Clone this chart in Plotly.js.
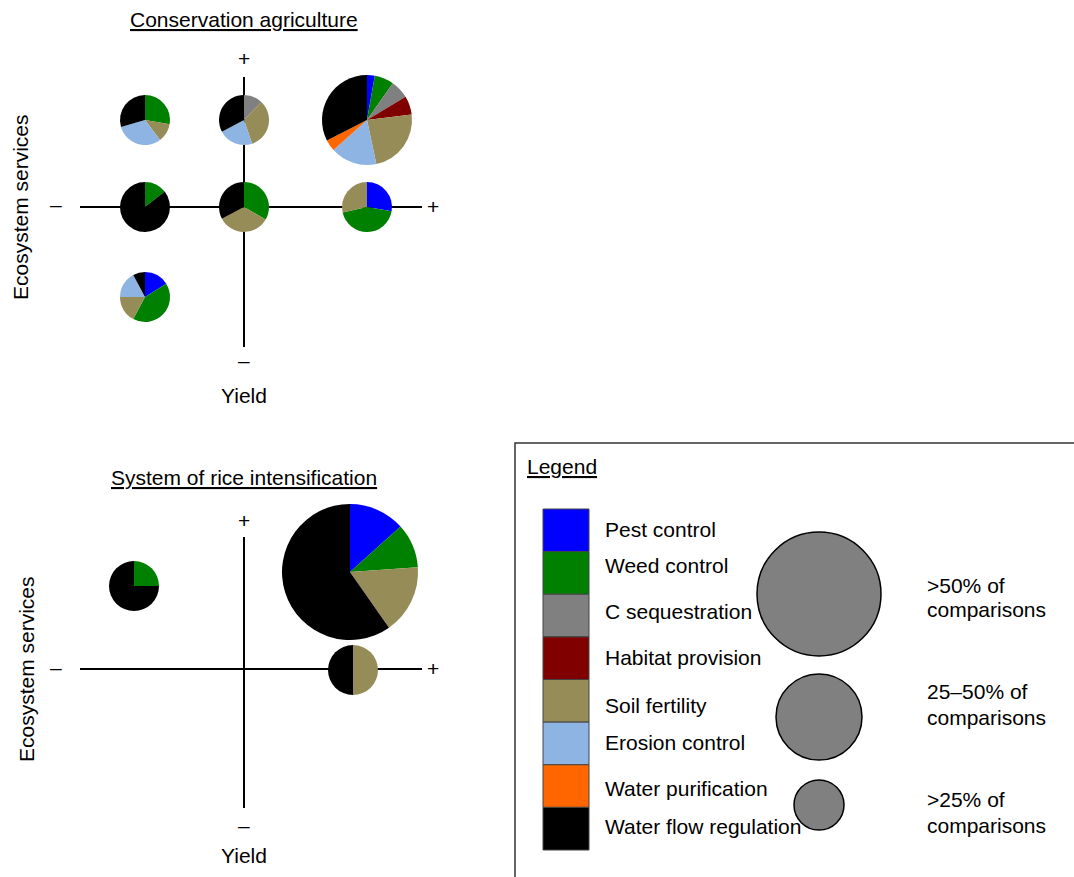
<!DOCTYPE html>
<html>
<head>
<meta charset="utf-8">
<script src="https://cdn.plot.ly/plotly-3.0.1.min.js"></script>
<style>html,body{margin:0;padding:0;background:#fff;}#chart{width:1074px;height:877px;}</style>
</head>
<body>
<div id="chart"></div>
<script>
// ---------- DATA ----------
const services = ['Pest control','Weed control','C sequestration','Habitat provision',
                  'Soil fertility','Erosion control','Water purification','Water flow regulation'];
const serviceColors = ['#0000ff','#008000','#808080','#800000','#968c58','#8eb4e3','#ff6600','#000000'];

const sizeClassLabels = [['>50% of','comparisons'],['25–50% of','comparisons'],['>25% of','comparisons']];

// Conservation agriculture: share of each service (degrees of the pie, clockwise from 12 o'clock)
const caYieldNegEsPos  = [0, 100, 0, 0, 43, 111, 0, 106];
const caYieldZeroEsPos = [0, 0, 44, 0, 117, 81, 0, 118];
const caYieldPosEsPos  = [10, 25, 24, 24, 85, 60, 15, 117];
const caYieldNegEsZero = [0, 52, 0, 0, 0, 0, 0, 308];
const caYieldZeroEsZero= [0, 120, 0, 0, 122, 0, 0, 118];
const caYieldPosEsZero = [100, 157, 0, 0, 103, 0, 0, 0];
const caYieldNegEsNeg  = [58, 150, 0, 0, 62, 62, 0, 28];

// System of rice intensification
const sriYieldNegEsPos = [0, 90, 0, 0, 0, 0, 0, 270];
const sriYieldPosEsPos = [48, 38, 0, 0, 59, 0, 0, 215];
const sriYieldPosEsZero= [0, 0, 0, 0, 180, 0, 0, 180];

// ---------- LAYOUT HELPERS ----------
const W = 1074, H = 877;
const X = px => px / W;
const Y = py => 1 - py / H;
const FONT = 'Liberation Sans, Arial, Helvetica, sans-serif';
const FS = 21;
const radiusBySize = [68, 45, 25];   // 0 = >50%, 1 = 25-50%, 2 = <25% of comparisons

const pies = [
  {v: caYieldNegEsPos,  cx: 145, cy: 120, s: 2},
  {v: caYieldZeroEsPos, cx: 244, cy: 120, s: 2},
  {v: caYieldPosEsPos,  cx: 367, cy: 120, s: 1},
  {v: caYieldNegEsZero, cx: 145, cy: 207, s: 2},
  {v: caYieldZeroEsZero,cx: 244, cy: 207, s: 2},
  {v: caYieldPosEsZero, cx: 367, cy: 207, s: 2},
  {v: caYieldNegEsNeg,  cx: 145, cy: 297, s: 2},
  {v: sriYieldNegEsPos, cx: 134, cy: 586, s: 2},
  {v: sriYieldPosEsPos, cx: 350, cy: 572, s: 0},
  {v: sriYieldPosEsZero,cx: 353, cy: 670, s: 2}
];

const shapes = [];
const annotations = [];
function line(x0,y0,x1,y1,w,c){shapes.push({type:'line',xref:'paper',yref:'paper',x0:X(x0),y0:Y(y0),x1:X(x1),y1:Y(y1),line:{color:c||'#000',width:w||2},layer:'below'});}
function txt(t,x,y,opts){annotations.push(Object.assign({text:t,x:X(x),y:Y(y-1),xref:'paper',yref:'paper',showarrow:false,xanchor:'center',yanchor:'middle',font:{family:FONT,size:FS,color:'#000'}},opts||{}));}

const traces = pies.map(p => {
  const r = radiusBySize[p.s];
  return {
    type:'pie', labels: services, values: p.v, sort:false, direction:'clockwise', rotation:0,
    marker:{colors: serviceColors, line:{width:0}},
    textinfo:'none', hoverinfo:'label+percent', showlegend:false,
    domain:{x:[X(p.cx - r), X(p.cx + r)], y:[Y(p.cy + r), Y(p.cy - r)]}
  };
});

// Axis crosses
function cross(hy, vx, vTop, vBot, plusY, minusY, yieldY, esX, titleText, titleY){
  line(80, hy, 422, hy, 2);
  line(vx, vTop, vx, vBot, 2);
  txt('+', 433, hy);
  txt('–', 56, hy - 1);
  txt('+', vx, plusY);
  txt('–', vx, minusY);
  txt('Yield', vx, yieldY);
  txt('Ecosystem services', esX, hy + 1, {textangle:-90});
  txt('<u>'+titleText+'</u>', vx, titleY);
}
cross(207, 244, 77, 347, 59, 362, 397, 20, 'Conservation agriculture', 20);
cross(669, 244, 537, 808, 521, 826, 856, 26, 'System of rice intensification', 478);

// Legend box
shapes.push({type:'rect',xref:'paper',yref:'paper',x0:X(515),x1:X(1090),y0:Y(443),y1:Y(900),line:{color:'#333',width:1.5},fillcolor:'rgba(0,0,0,0)'});
txt('<u>Legend</u>', 525, 467, {xanchor:'left'});
const swTop = 509, swH = (850 - 509) / services.length;
const labelY = [530, 566, 612, 658, 706, 743, 789, 827];
services.forEach((s,i) => {
  shapes.push({type:'rect',xref:'paper',yref:'paper',x0:X(543),x1:X(589),y0:Y(swTop+swH*(i+1)),y1:Y(swTop+swH*i),
    fillcolor:serviceColors[i],line:{color:'#444',width:1}});
  txt(s, 603, labelY[i], {xanchor:'left'});
});
const sizeCircleY = [594, 717, 805];
const sizeCircleR = [62, 43, 25];
const sizeTextY = [[586,610],[692,718],[800,826]];
sizeClassLabels.forEach((lbl,i) => {
  const cy = sizeCircleY[i], r = sizeCircleR[i];
  shapes.push({type:'circle',xref:'paper',yref:'paper',x0:X(819-r),x1:X(819+r),y0:Y(cy+r),y1:Y(cy-r),
    fillcolor:'#808080',line:{color:'#000',width:1.5}});
  txt(lbl[0], 925, sizeTextY[i][0], {xanchor:'left'});
  txt(lbl[1], 925, sizeTextY[i][1], {xanchor:'left'});
});

const layout = {
  width: W, height: H,
  margin:{l:0,r:0,t:0,b:0},
  paper_bgcolor:'#fff', plot_bgcolor:'#fff',
  showlegend:false,
  font:{family:FONT,size:FS,color:'#000'},
  shapes: shapes, annotations: annotations
};
Plotly.newPlot('chart', traces, layout, {displayModeBar:false, staticPlot:true});
</script>
</body>
</html>
